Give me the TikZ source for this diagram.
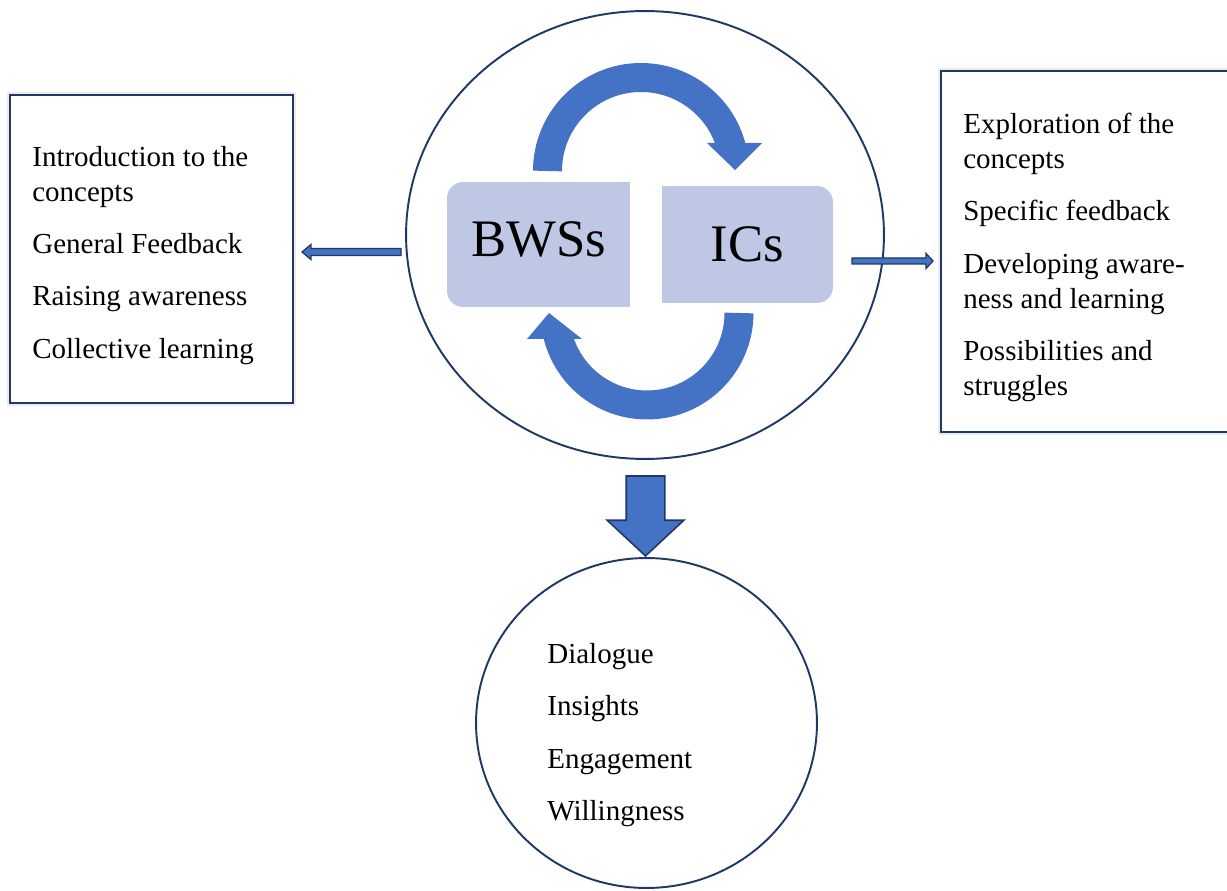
\documentclass[tikz,border=0pt]{standalone}
\usepackage{fontspec}
\setmainfont{Liberation Serif}
\usetikzlibrary{shapes.geometric,shapes.arrows,calc,backgrounds}
\definecolor{accent}{RGB}{68,114,196}
\definecolor{navy}{RGB}{31,56,100}
\definecolor{boxfill}{RGB}{190,200,228}
\tikzset{
  listtext/.style={font=\fontsize{16.5}{19.8}\selectfont, align=left, anchor=north west, inner sep=0pt},
  framebox/.style={draw=navy, line width=1.1pt, fill=white, inner sep=0pt, preaction={draw=black!8, line width=4pt}},
  ring/.style={ellipse, draw=navy, line width=1.1pt, inner sep=0pt},
  linkarrow/.style={draw=navy, fill=accent, line width=0.7pt},
  cycleband/.style={accent, line width=0.58cm},
  tag/.style={fill=boxfill, font=\fontsize{30}{36}\selectfont, inner sep=0pt},
}
\begin{document}
\begin{tikzpicture}[x=0.02cm, y=0.02cm]
    \useasboundingbox (0,0) rectangle (1227,-891);

    \node [ring, minimum width=9.56cm, minimum height=8.96cm] (cycle) at (645,-235) {};
    \node [ring, minimum width=6.82cm, minimum height=6.6cm] (outcomes) at (646.5,-723) {};

    \node [framebox, minimum width=5.66cm, minimum height=6.16cm] (leftbox) at (151.5,-249) {};
    \node [framebox, minimum width=6.08cm, minimum height=7.22cm] (rightbox) at (1093,-251.5) {};

    % the two labels in the cycle
    \node [tag, rounded corners=0.32cm, minimum width=3.66cm, minimum height=2.5cm, text depth=0.2cm] (bws) at (538.5,-244.5) {BWSs};
    \node [tag, rounded corners=0.32cm, minimum width=3.42cm, minimum height=2.34cm] (ics) at (747.5,-244.5) {ICs};
    \begin{scope}[on background layer]
        \fill [boxfill] (bws.north) rectangle (bws.south east);
        \fill [boxfill] (ics.north west) rectangle (ics.south);
    \end{scope}

    \draw [cycleband] (547.5,-171) arc [start angle=180, end angle=15, radius=93.5];
    \fill [accent] (707,-143) -- (762,-143) -- (735,-170) -- cycle;
    \draw [cycleband] (739,-313) arc [start angle=0, end angle=-166, radius=92];
    \fill [accent] (527,-339) -- (582,-339) -- (549,-313) -- cycle;

    \node [single arrow, draw=navy, fill=accent, line width=0.9pt, rotate=-90, minimum height=1.6cm, minimum width=1.5cm, single arrow head extend=0.38cm, single arrow tip angle=94, inner xsep=0pt, inner ysep=0.37cm] (down) at (645.5,-507) {};

    \coordinate (ltail) at (401,-252);
    \coordinate (ltip) at ($(ltail -| leftbox.east)+(8,0)$);
    \draw [linkarrow] ($(ltail)+(0,3.5)$) -- ($(ltip)+(9,3.5)$) -- ($(ltip)+(9,7.5)$) -- (ltip)
        -- ($(ltip)+(9,-7.5)$) -- ($(ltip)+(9,-3.5)$) -- ($(ltail)+(0,-3.5)$) -- cycle;

    \coordinate (rtail) at (852,-261);
    \coordinate (rtip) at ($(rtail -| rightbox.west)+(-7,0)$);
    \draw [linkarrow] ($(rtail)+(0,3)$) -- ($(rtip)+(-7,3)$) -- ($(rtip)+(-7,7.5)$) -- (rtip)
        -- ($(rtip)+(-7,-7.5)$) -- ($(rtip)+(-7,-3)$) -- ($(rtail)+(0,-3)$) -- cycle;

    \node [listtext] (lefttext) at (32,-146) {Introduction to the\\concepts\\[10pt]General Feedback\\[10pt]Raising awareness\\[10pt]Collective learning};
    \node [listtext] (righttext) at (963,-113) {Exploration of the\\concepts\\[10pt]Specific feedback\\[10pt]Developing aware-\\ness and learning\\[10pt]Possibilities and\\struggles};
    \node [listtext] (outtext) at (547,-643) {Dialogue\\[10pt]Insights\\[10pt]Engagement\\[10pt]Willingness};
\end{tikzpicture}
\end{document}
